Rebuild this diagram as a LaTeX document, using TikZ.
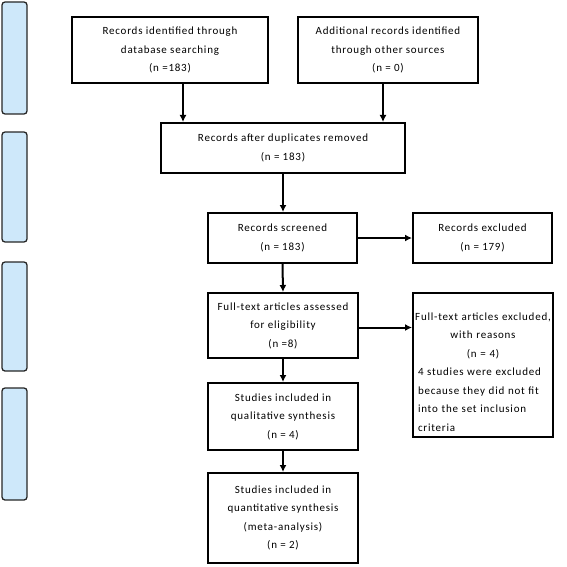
\documentclass[tikz,border=0pt]{standalone}
\usepackage{fontspec}
\setmainfont[LetterSpace=7]{Carlito}
\usetikzlibrary{arrows.meta, positioning, calc}
\definecolor{sideblue}{RGB}{206,232,250}

\begin{document}
\begin{tikzpicture}[x=1pt, y=-1pt,
    box/.style={draw=black, line width=2pt, align=center, inner sep=1pt,
                font=\fontsize{11}{18.5}\selectfont},
    arr/.style={-{Latex[length=7pt, width=7pt]}, line width=2pt},
    phase/.style={draw=black!85, line width=1.3pt, fill=sideblue, rounded corners=3pt}
  ]
    \useasboundingbox (0,0) rectangle (567,567);

    % phase bars on the left
    \draw[phase] (2,2) rectangle (27,114);
    \draw[phase] (2,132) rectangle (27,242);
    \draw[phase] (2,262) rectangle (27,371);
    \draw[phase] (2,388) rectangle (27,500);

    % identification
    \node[box, minimum width=196, minimum height=66] (ident) at (170,50)
        {Records identified through\\database searching\\(n =183)};
    \node[box, minimum width=180, minimum height=66] (other) at (388,50)
        {Additional records identified\\through other sources\\(n = 0)};

    \node[box, minimum width=244, minimum height=50] (dup) at (283,148)
        {Records after duplicates removed\\(n = 183)};

    % screening
    \node[box, minimum width=149, minimum height=50] (screen) at (282.5,238)
        {Records screened\\(n = 183)};
    \node[box, minimum width=139, minimum height=50] (excl) at (482.5,238)
        {Records excluded\\(n = 179)};

    % eligibility
    \node[box, minimum width=150, minimum height=65] (full) at (283,325.5)
        {Full-text articles assessed\\for eligibility\\(n =8)};
    \node[box, minimum width=140, minimum height=144] (fullexcl) at (483,365) {};
    \node[box, draw=none, text width=130, align=left, below=0pt of fullexcl.center, anchor=center, yshift=-7pt] (reasons)
        {{\centering \makebox[\linewidth]{Full-text articles excluded,}\\with reasons\\(n = 4)\par}
         4 studies were excluded\\because they did not fit\\into the set inclusion\\criteria};

    % included
    \node[box, minimum width=150, minimum height=67] (qual) at (283,416.5)
        {Studies included in\\qualitative synthesis\\(n = 4)};
    \node[box, minimum width=150, minimum height=90] (quant) at (283,518)
        {Studies included in\\quantitative synthesis\\(meta-analysis)\\(n = 2)};

    % connectors
    \draw[arr] ([xshift=13]ident.south) -- ([xshift=13]ident.south |- dup.north);
    \draw[arr] ([xshift=-5]other.south) -- ([xshift=-5]other.south |- dup.north);
    \draw[arr] (dup.south) -- (dup.south |- screen.north);
    \draw[arr] (screen.east) -- (excl.west);
    \draw[arr] (screen.south) -- (full.north);
    \draw[arr] ([yshift=-2]full.east) -- ([yshift=-2]full.east -| fullexcl.west);
    \draw[arr] (full.south) -- (qual.north);
    \draw[arr] (qual.south) -- (quant.north);
\end{tikzpicture}
\end{document}
